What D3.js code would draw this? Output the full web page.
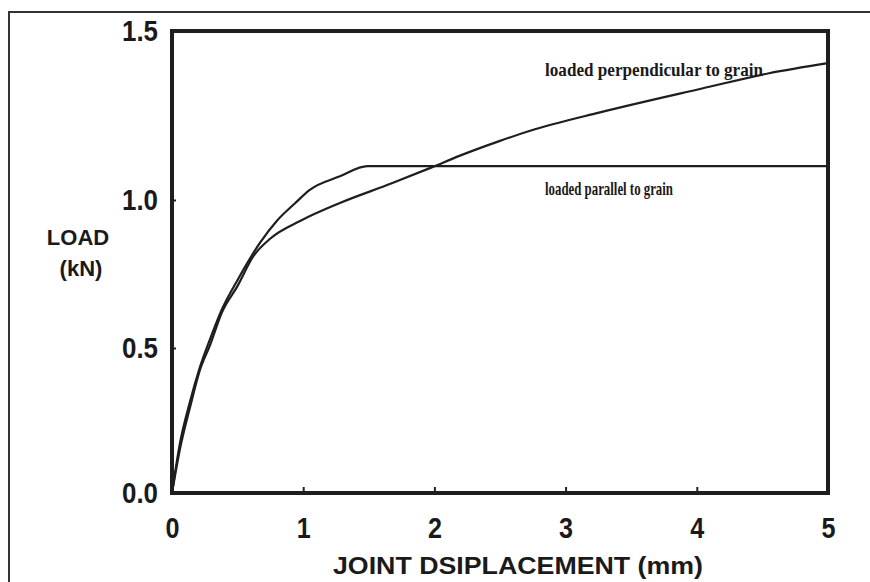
<!DOCTYPE html>
<html>
<head>
<meta charset="utf-8">
<script src="https://cdn.jsdelivr.net/npm/d3@7"></script>
<style>
  body { margin: 0; background: #fff; }
  svg { display: block; }
  .tick-label { font-family: "Liberation Sans", Arial, sans-serif; font-weight: bold; fill: #1a1a1a; }
  .title { font-family: "Liberation Sans", Arial, sans-serif; font-weight: bold; fill: #1a1a1a; }
  .note { font-family: "Liberation Serif", serif; font-weight: bold; fill: #1a1a1a; }
</style>
</head>
<body>
<div id="chart"></div>
<script>
const X_TICKS = [0, 1, 2, 3, 4, 5]
const Y_TICKS = [0, 0.5, 1.0, 1.5]

// loaded parallel to grain (mm, kN)
const DISP_PARALLEL = [0, 0.06, 0.14, 0.21, 0.29, 0.38, 0.5, 0.67, 0.8, 0.94, 1.05, 1.28, 1.49, 5]
const LOAD_PARALLEL = [0, 0.17, 0.32, 0.43, 0.53, 0.63, 0.73, 0.855, 0.93, 0.99, 1.03, 1.07, 1.1, 1.1]

// loaded perpendicular to grain (mm, kN)
const DISP_PERP = [0, 0.06, 0.14, 0.21, 0.29, 0.38, 0.5, 0.62, 0.75, 0.98, 1.28, 1.68, 1.97, 2.2, 2.5, 2.73, 3.27, 4.04, 4.55, 5]
const LOAD_PERP = [0, 0.15, 0.3, 0.42, 0.51, 0.62, 0.71, 0.81, 0.87, 0.93, 0.99, 1.05, 1.095, 1.132, 1.175, 1.205, 1.26, 1.33, 1.375, 1.405]

const width = 870
const height = 582

const svg = d3.select('#chart').append('svg')
  .attr('width', width)
  .attr('height', height)

// outer frame of the scanned figure
svg.append('path')
  .attr('d', `M9,582 V12 H870`)
  .attr('fill', 'none')
  .attr('stroke', '#333')
  .attr('stroke-width', 2)

// scanned axis is slightly uneven, so the scale follows the drawn ticks
const x = d3.scaleLinear().domain([0, 5]).range([172, 828])
const y = d3.scaleLinear().domain(Y_TICKS).range([493, 348, 200, 31])

const line = d3.line()
  .x(d => x(d[0]))
  .y(d => y(d[1]))
  .curve(d3.curveMonotoneX)

const series = [
  d3.zip(DISP_PARALLEL, LOAD_PARALLEL),
  d3.zip(DISP_PERP, LOAD_PERP)
]

svg.selectAll('.curve')
  .data(series)
  .join('path')
  .attr('class', 'curve')
  .attr('d', line)
  .attr('fill', 'none')
  .attr('stroke', '#1e1e1e')
  .attr('stroke-width', 2.2)

// axes (ticks point inward)
const xAxis = svg.append('g')
  .attr('transform', `translate(0,${y(0)})`)
  .call(d3.axisBottom(x).tickValues(X_TICKS).tickSize(-6).tickPadding(24).tickFormat(d3.format('d')))

const yAxis = svg.append('g')
  .attr('transform', `translate(${x(0)},0)`)
  .call(d3.axisLeft(y).tickValues(Y_TICKS).tickSize(-4).tickPadding(14).tickFormat(d3.format('.1f')))

// condensed look of the original digits
const labelWidth = s => s.split('').reduce((w, c) => w + (c === '.' ? 8 : 14), 0)

;[xAxis, yAxis].forEach(a => {
  a.select('.domain').remove()
  a.selectAll('.tick line').attr('stroke', '#222').attr('stroke-width', 2)
  a.selectAll('.tick text')
    .attr('class', 'tick-label')
    .attr('font-size', 30)
    .attr('fill', '#1a1a1a')
    .attr('textLength', function () { return labelWidth(this.textContent) })
    .attr('lengthAdjust', 'spacingAndGlyphs')
})
xAxis.selectAll('.tick text').attr('dy', '0.71em')

// plot box
svg.append('rect')
  .attr('x', x(0))
  .attr('y', y(1.5))
  .attr('width', x(5) - x(0))
  .attr('height', y(0) - y(1.5))
  .attr('fill', 'none')
  .attr('stroke', '#1e1e1e')
  .attr('stroke-width', 4)

// axis titles
svg.append('text')
  .attr('class', 'title')
  .attr('x', 518)
  .attr('y', 574)
  .attr('text-anchor', 'middle')
  .attr('font-size', 23)
  .attr('textLength', 370)
  .attr('lengthAdjust', 'spacingAndGlyphs')
  .text('JOINT DSIPLACEMENT (mm)')

svg.append('text')
  .attr('class', 'title')
  .attr('x', 78)
  .attr('y', 245)
  .attr('text-anchor', 'middle')
  .attr('font-size', 22)
  .text('LOAD')

svg.append('text')
  .attr('class', 'title')
  .attr('x', 81)
  .attr('y', 276)
  .attr('text-anchor', 'middle')
  .attr('font-size', 22)
  .text('(kN)')

// curve labels
svg.append('text')
  .attr('class', 'note')
  .attr('x', 545)
  .attr('y', 76)
  .attr('font-size', 19)
  .attr('textLength', 218)
  .attr('lengthAdjust', 'spacingAndGlyphs')
  .text('loaded perpendicular to grain')

svg.append('text')
  .attr('class', 'note')
  .attr('x', 545)
  .attr('y', 195)
  .attr('font-size', 19)
  .attr('textLength', 128)
  .attr('lengthAdjust', 'spacingAndGlyphs')
  .text('loaded parallel to grain')
</script>
</body>
</html>
